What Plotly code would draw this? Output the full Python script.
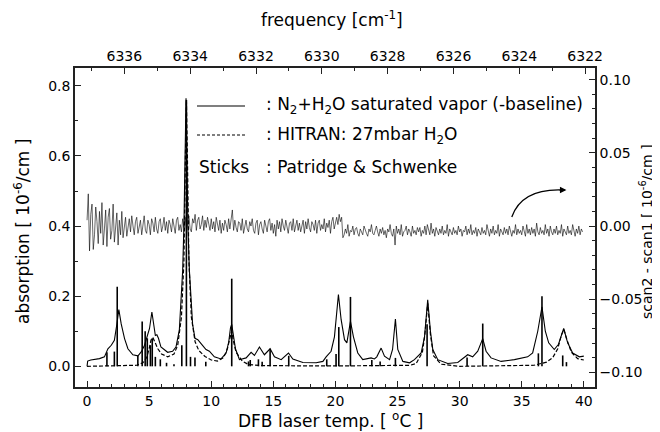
import numpy as np
import plotly.graph_objects as go

# ---------------- data ----------------
# measured spectrum N2+H2O (-baseline): laser temperature [C], absorption [1e-6/cm]
meas_T = [0.00, 0.05, 0.3, 0.7, 1.0, 1.4, 1.68, 1.95, 2.2, 2.4, 2.56, 2.75, 3.02, 3.29, 3.69,
          4.1, 4.36, 4.63, 4.85, 5.03, 5.22, 5.38, 5.5, 5.62, 5.75, 5.95, 6.49, 6.89, 7.16,
          7.43, 7.56, 7.7, 7.8, 7.9, 7.97, 8.04, 8.12, 8.24, 8.37, 8.5, 8.69, 8.92, 9.18,
          9.58, 9.85, 10.25, 10.79, 11.2, 11.41, 11.55, 11.65, 11.78, 11.95, 12.27, 12.81,
          13.21, 13.48, 13.88, 14.28, 14.74, 15.09, 15.63, 16.22, 16.57, 17.38, 18.45, 18.99,
          19.25, 19.65, 19.92, 20.1, 20.24, 20.46, 20.73, 20.92, 21.08, 21.21, 21.45, 21.8,
          22.2, 22.87, 23.14, 23.33, 23.68, 23.95, 24.36, 24.6, 24.83, 25.02, 25.43, 25.97,
          26.36, 26.9, 27.17, 27.43, 27.65, 27.84, 28.24, 29.04, 29.85, 30.25, 30.65, 31.05,
          31.46, 31.86, 32.13, 32.53, 33.34, 34.41, 35.48, 35.88, 36.29, 36.63, 36.9, 37.17,
          37.62, 37.95, 38.38, 38.7, 39.1, 39.64, 40.0]
meas_A = [0.000, 0.015, 0.018, 0.020, 0.022, 0.027, 0.050, 0.060, 0.074, 0.120, 0.162, 0.121,
          0.079, 0.050, 0.033, 0.030, 0.041, 0.060, 0.083, 0.108, 0.155, 0.122, 0.088, 0.090,
          0.080, 0.055, 0.040, 0.043, 0.055, 0.103, 0.18, 0.274, 0.40, 0.60, 0.765, 0.60,
          0.40, 0.274, 0.18, 0.12, 0.080, 0.076, 0.065, 0.048, 0.043, 0.027, 0.021, 0.038,
          0.070, 0.110, 0.120, 0.085, 0.050, 0.019, 0.024, 0.040, 0.031, 0.055, 0.033, 0.050,
          0.027, 0.019, 0.038, 0.021, 0.011, 0.010, 0.014, 0.027, 0.043, 0.084, 0.16, 0.205,
          0.133, 0.076, 0.067, 0.10, 0.128, 0.084, 0.038, 0.019, 0.024, 0.021, 0.027, 0.052,
          0.029, 0.019, 0.048, 0.135, 0.048, 0.014, 0.010, 0.019, 0.038, 0.083, 0.190, 0.100,
          0.048, 0.019, 0.008, 0.011, 0.021, 0.033, 0.027, 0.043, 0.079, 0.043, 0.024, 0.014,
          0.019, 0.027, 0.038, 0.100, 0.170, 0.100, 0.067, 0.048, 0.062, 0.108, 0.067, 0.038,
          0.027, 0.029]

# HITRAN 27 mbar H2O simulation
hit_T = [0.0, 4.0, 4.5, 4.8, 5.0, 5.15, 5.3, 5.45, 5.7, 6.0, 6.5, 7.0, 7.3, 7.6, 7.8, 7.92,
         8.0, 8.08, 8.2, 8.4, 8.7, 9.0, 9.5, 10.0, 10.5, 11.0, 11.3, 11.5, 11.65, 11.8, 12.0,
         12.5, 13.0, 14.0, 20.0, 26.0, 26.5, 27.0, 27.2, 27.43, 27.65, 27.9, 28.5, 30.0, 36.0,
         37.0, 37.5, 37.9, 38.2, 38.4, 38.6, 39.0, 39.5, 40.0]
hit_A = [0.0, 0.003, 0.010, 0.025, 0.050, 0.075, 0.082, 0.070, 0.050, 0.035, 0.027, 0.035,
         0.060, 0.14, 0.30, 0.60, 0.76, 0.60, 0.30, 0.14, 0.07, 0.045, 0.028, 0.018, 0.015,
         0.025, 0.050, 0.080, 0.100, 0.070, 0.040, 0.015, 0.005, 0.002, 0.001, 0.003, 0.008,
         0.040, 0.090, 0.180, 0.090, 0.030, 0.006, 0.0, 0.003, 0.012, 0.025, 0.050, 0.090,
         0.105, 0.080, 0.040, 0.022, 0.018]

# Partridge & Schwenke sticks
stick_T = [1.6, 2.2, 2.43, 4.09, 4.44, 4.68, 4.85, 5.1, 5.25, 5.5, 5.9, 6.4, 7.0, 7.63, 8.0,
           8.33, 8.69, 9.56, 11.65, 13.0, 13.14, 13.8, 14.1, 14.74, 16.24, 19.3, 20.05, 20.27,
           21.21, 22.93, 23.6, 24.83, 27.38, 30.6, 31.86, 36.34, 36.63, 38.3, 38.6]
stick_A = [0.04, 0.042, 0.227, 0.03, 0.128, 0.10, 0.08, 0.06, 0.08, 0.027, 0.02, 0.01, 0.006,
           0.06, 0.76, 0.027, 0.025, 0.013, 0.25, 0.014, 0.018, 0.02, 0.013, 0.05, 0.03, 0.02,
           0.035, 0.112, 0.198, 0.018, 0.014, 0.024, 0.12, 0.025, 0.122, 0.037, 0.2, 0.031,
           0.012]

# scan2 - scan1 difference [1e-6/cm], in units of 0.001, sampled every 0.1 C
diff1_start, diff1_step = 0.0, 0.1
diff1 = [4, 22, -17, 8, 15, -16, -6, 13, 3, -12,
         10, -5, 16, -13, -2, 11, -14, 6, 12, -9,
         -3, 15, -11, 2, 9, -13, 4, -6, 10, -8,
         1, 6, -7, -2, 5, -4, 7, 0, -6, 3,
         6, -5, -1, 4, -6, 2, 7, -3, -5, 4,
         1, -6, 5, 2, -4, 6, -2, -5, 3, 5,
         -4, 0, 6, -3, 3, -5, 4, 1, -4, 5,
         -2, -5, 4, 6, -3, 1, -4, 5, -1, 6,
         -3, 3, 7, -2, -4, 5, 2, 8, -3, 4,
         6, -2, 1, 7, -3, 4, -1, 6, 0, -3,
         5, -2, 3, -4, 6, 0, -3, 4, -5, 2,
         -3, 4, 1, -4, 5, -2, 3, 11, -3, 4,
         -1, -4, 3, 2, -3, 5, -5, 1, 4, -2,
         -4, 3, 0, 5, -3, -5, 2, 4, -6, 1,
         3, -2, -5, 4, 0, -4, 3, 5, -3, 2,
         -5, 1, -7, 4, -2, 3, -4, 5, 0, -3,
         4, -2, -5, 2, 3, -3, 5, -4, 1, 4,
         -3, 2, -4, 0, 4, -5, 3, -2, 5, -1,
         -4, 3, 1, -3, 4, -5, 2, 4, -3, 1,
         -2, 5, -4, 2, -1, 4, -5, 3, 6, -2,
         2, 6, 1, 8, 3, 6, -8]
diff2_start, diff2_step = 20.7, 0.1
diff2 = [-6, -2, -5, 1, -7, -3, -4, 0, -6, -2,
         -1, -5, -7, -2, -4, -6, 0, -3, -5, -7,
         -2, -4, 1, -5, -6, -3, 0, -4, -7, -2,
         -5, -1, -6, -3, -8, -2, -4, 1, -5, -7,
         -2, -13, 0, -5, -2, -6, 1, -7, -4, -3,
         0, -6, -2, -4, -7, 0, -5, -3, -6, -1,
         -4, -1, -7, -3, -5, 0, -6, 1, -3, -6,
         2, -5, -2, -7, -1, -4, -6, -2, -5, 0,
         -6, -3, -5, 1, -7, -2, -4, -6, -1, -5,
         -3, -6, 0, -4, -2, -7, -3, -4, 0, -6,
         -2, -5, 1, -6, -3, -5, -1, -7, -2, -4,
         -6, -1, -5, -3, -6, 1, -4, -7, -2, -5,
         0, -6, -3, -5, 1, -7, -2, -4, -6, -1,
         -5, -2, -6, 0, -4, -7, -3, -5, 1, -6,
         -2, -5, -3, -6, 0, -4, -7, 1, -5, -2,
         -6, -1, -5, -2, -7, 2, -4, -6, -1, -5,
         -3, -6, 1, -5, -2, -7, 0, -4, -6, -2,
         -5, 0, -6, -3, -5, 1, -7, -2, -4, -6,
         0, -5, -3, -6, 1, -4, -7, -2, -5, 0,
         -6, -2, -4]

# ---------------- build ----------------
FONT = "DejaVu Sans"
d_T = list(diff1_start + diff1_step * np.arange(len(diff1))) + \
      list(diff2_start + diff2_step * np.arange(len(diff2)))
d_V = [v * 0.001 for v in diff1 + diff2]

sx, sy = [], []
for t, a in zip(stick_T, stick_A):
    sx += [t, t, None]
    sy += [0, a, None]

fig = go.Figure()
fig.add_trace(go.Scatter(x=d_T, y=d_V, mode="lines", yaxis="y2",
                         line=dict(color="black", width=0.6), hoverinfo="skip"))
fig.add_trace(go.Scatter(x=hit_T, y=hit_A, mode="lines",
                         line=dict(color="black", width=1.2, dash="4px,2px")))
fig.add_trace(go.Scatter(x=meas_T, y=meas_A, mode="lines",
                         line=dict(color="black", width=1.1)))
fig.add_trace(go.Scatter(x=sx, y=sy, mode="lines",
                         line=dict(color="black", width=1.6)))
# anchor trace for the top frequency axis
fig.add_trace(go.Scatter(x=[6330], y=[None], xaxis="x2", mode="lines",
                         hoverinfo="skip"))

ax_common = dict(showline=True, linecolor="#222", linewidth=1.6, mirror=False,
                 ticks="inside", ticklen=6, tickwidth=1.3, tickcolor="#222",
                 showgrid=False, zeroline=False, automargin=False,
                 tickfont=dict(family=FONT, size=14, color="black"))

# the page body adds an 8px offset; figure size and margins are chosen so that
# the whole page fits the 660x432 window and the plot area lands at
# x 75..595, y 68..387 in the screenshot
fig.update_layout(
    width=652, height=424,
    margin=dict(l=67, r=65, t=60, b=45),
    paper_bgcolor="white", plot_bgcolor="white",
    showlegend=False,
    font=dict(family=FONT, color="black"),
    xaxis=dict(range=[-0.97, 40.9], dtick=5, tick0=0,
               minor=dict(ticks="inside", dtick=1, ticklen=3, tickcolor="#222"),
               **ax_common),
    xaxis2=dict(range=[6337.5, 6321.7], dtick=2, tick0=6322, overlaying="x",
                side="top", anchor="y",
                minor=dict(ticks="inside", dtick=1, ticklen=3, tickcolor="#222"),
                **ax_common),
    yaxis=dict(range=[-0.059, 0.851], dtick=0.2, tick0=0, tickformat=".1f",
               minor=dict(ticks="inside", dtick=0.1, ticklen=3, tickcolor="#222"),
               **ax_common),
    yaxis2=dict(range=[-0.110, 0.108], dtick=0.05, tick0=0, tickformat=".2f",
                overlaying="y", side="right", anchor="x",
                minor=dict(ticks="inside", dtick=0.01, ticklen=3, tickcolor="#222"),
                **ax_common),
)

def px2paper(px, py):
    # screenshot pixel -> paper fraction of the plot area (75..595, 68..387)
    return (px - 75) / 520.0, (387 - py) / 319.0

# axis titles
tf = dict(family=FONT, size=17, color="black")
bx, by = px2paper(330, 420)
fig.add_annotation(xref="paper", yref="paper", x=bx, y=by, showarrow=False,
                   text="DFB laser temp. [ <sup>o</sup>C ]", font=tf,
                   xanchor="center", yanchor="middle")
tx, ty = px2paper(332, 19)
fig.add_annotation(xref="paper", yref="paper", x=tx, y=ty, showarrow=False,
                   text="frequency [cm<sup>-1</sup>]", font=tf,
                   xanchor="center", yanchor="middle")
lx, ly = px2paper(22, 232)
fig.add_annotation(xref="paper", yref="paper", x=lx, y=ly, showarrow=False,
                   text="absorption [ 10<sup>-6</sup>/cm ]", font=tf, textangle=-90,
                   xanchor="center", yanchor="middle")
rx, ry = px2paper(646, 232)
fig.add_annotation(xref="paper", yref="paper", x=rx, y=ry, showarrow=False,
                   text="scan2 - scan1 [ 10<sup>-6</sup>/cm ]",
                   font=dict(family=FONT, size=14, color="black"), textangle=-90,
                   xanchor="center", yanchor="middle")

# legend (drawn by hand, as in the original)
x0, y1 = px2paper(197, 106)
x1, _ = px2paper(245, 106)
_, y2 = px2paper(0, 135)
_, y3 = px2paper(0, 167)
xc, _ = px2paper(264, 0)
xs, _ = px2paper(197, 0)
fig.add_shape(type="line", xref="paper", yref="paper", x0=x0, x1=x1, y0=y1, y1=y1,
              line=dict(color="black", width=1.1))
fig.add_shape(type="line", xref="paper", yref="paper", x0=x0, x1=x1, y0=y2, y1=y2,
              line=dict(color="black", width=1.2, dash="3px,2px"))
lf = dict(family=FONT, size=17, color="black")
fig.add_annotation(xref="paper", yref="paper", x=xc, y=y1, xanchor="left", yanchor="middle",
                   text=": N<sub>2</sub>+H<sub>2</sub>O saturated vapor (-baseline)",
                   showarrow=False, font=lf)
fig.add_annotation(xref="paper", yref="paper", x=xc, y=y2, xanchor="left", yanchor="middle",
                   text=": HITRAN: 27mbar H<sub>2</sub>O", showarrow=False, font=lf)
fig.add_annotation(xref="paper", yref="paper", x=xs, y=y3, xanchor="left", yanchor="middle",
                   text="Sticks", showarrow=False, font=lf)
fig.add_annotation(xref="paper", yref="paper", x=xc, y=y3, xanchor="left", yanchor="middle",
                   text=": Patridge &amp; Schwenke", showarrow=False, font=lf)

# curved arrow pointing to the right-hand axis
fig.add_shape(type="path", xref="x", yref="y",
              path="M 34.2,0.426 Q 35.0,0.505 38.1,0.503",
              line=dict(color="black", width=1.3))
fig.add_annotation(xref="x", yref="y", x=38.6, y=0.503, ax=-8, ay=0,
                   showarrow=True, arrowhead=2, arrowsize=1, arrowwidth=1.3,
                   arrowcolor="black", text="")

fig.write_html("out.html")
